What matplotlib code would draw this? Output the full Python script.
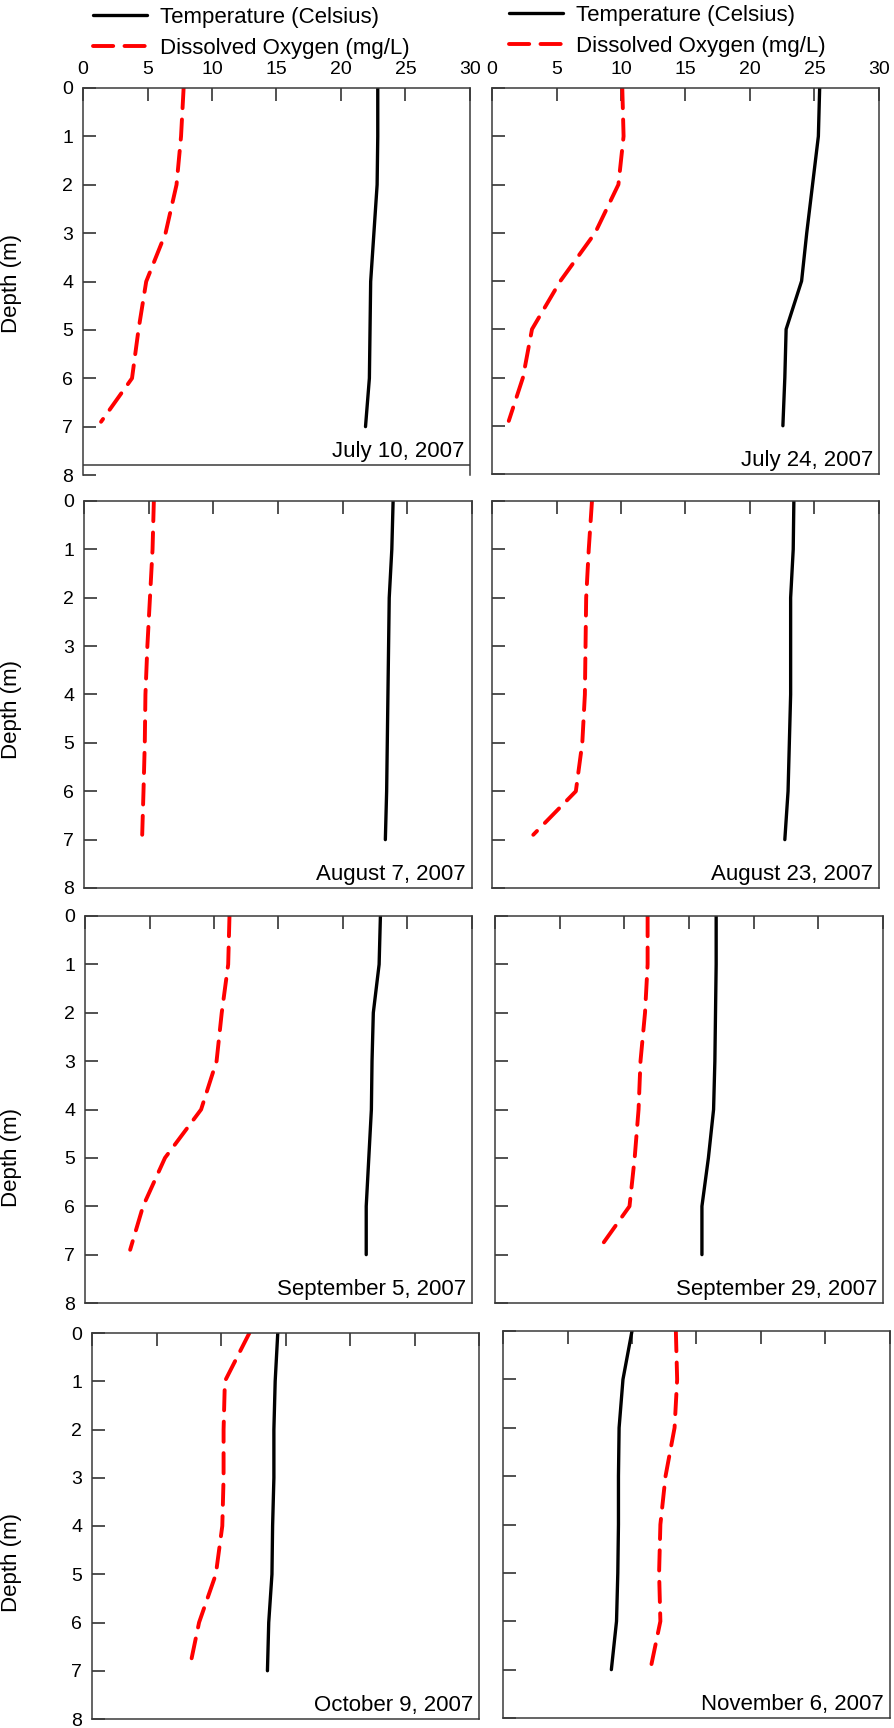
import matplotlib
matplotlib.use("Agg")
import matplotlib.pyplot as plt

plt.rcParams['font.family'] = ['Liberation Sans', 'DejaVu Sans']

W, H = 895, 1728
DPI = 100

# Sampling depths (m)
temp_depth = [0, 1, 2, 3, 4, 5, 6, 7]
do_depth = [0, 1, 2, 3, 4, 5, 6, 6.9]

dates = ["July 10, 2007", "July 24, 2007", "August 7, 2007", "August 23, 2007",
         "September 5, 2007", "September 29, 2007", "October 9, 2007", "November 6, 2007"]

# Temperature profiles (Celsius)
temp_jul10 = [22.85, 22.85, 22.8, 22.55, 22.3, 22.25, 22.2, 21.9]
temp_jul24 = [25.4, 25.3, 24.85, 24.4, 24.0, 22.8, 22.7, 22.55]
temp_aug07 = [23.9, 23.8, 23.6, 23.55, 23.5, 23.45, 23.4, 23.3]
temp_aug23 = [23.4, 23.35, 23.15, 23.15, 23.15, 23.05, 22.95, 22.7]
temp_sep05 = [22.9, 22.8, 22.35, 22.25, 22.2, 22.0, 21.8, 21.8]
temp_sep29 = [17.1, 17.1, 17.05, 17.0, 16.9, 16.5, 16.0, 16.0]
temp_oct09 = [14.4, 14.2, 14.1, 14.1, 14.0, 13.95, 13.7, 13.6]
temp_nov06 = [10.0, 9.3, 9.0, 8.95, 8.95, 8.9, 8.8, 8.4]

# Dissolved oxygen profiles (mg/L)
do_jul10 = [7.8, 7.6, 7.25, 6.4, 4.9, 4.3, 3.8, 1.4]
do_jul24 = [10.1, 10.2, 9.8, 8.0, 5.3, 3.1, 2.4, 1.3]
do_aug07 = [5.4, 5.3, 5.1, 4.9, 4.75, 4.7, 4.6, 4.5]
do_aug23 = [7.75, 7.5, 7.3, 7.25, 7.2, 7.0, 6.5, 3.2]
do_sep05 = [11.2, 11.1, 10.6, 10.2, 9.0, 6.2, 4.5, 3.5]
do_sep29 = [11.8, 11.8, 11.6, 11.25, 11.1, 10.8, 10.4, 8.0]
do_oct09 = [12.2, 10.3, 10.2, 10.2, 10.1, 9.6, 8.3, 7.6]
do_nov06 = [13.4, 13.5, 13.3, 12.6, 12.2, 12.1, 12.2, 11.5]

temps = [temp_jul10, temp_jul24, temp_aug07, temp_aug23,
         temp_sep05, temp_sep29, temp_oct09, temp_nov06]
oxygen = [do_jul10, do_jul24, do_aug07, do_aug23,
          do_sep05, do_sep29, do_oct09, do_nov06]

x_ticks = [0, 5, 10, 15, 20, 25, 30]
y_ticks = [0, 1, 2, 3, 4, 5, 6, 7, 8]

# Panel boxes in pixels: left, right, top, bottom
boxes = [(83, 470, 88, 475), (492, 879, 88, 474),
         (84, 472, 501, 888), (492, 879, 501, 888),
         (85, 472, 916, 1303), (495, 883, 916, 1303),
         (92, 479, 1333, 1719), (503, 890, 1331, 1718)]
ylabel_depth = [4.05, None, 4.3, None, 5.0, None, 4.75, None]

spine_c = '#3a3a3a'
fig = plt.figure(figsize=(W / DPI, H / DPI), dpi=DPI)

handles = []
for i, (l, r, t, b) in enumerate(boxes):
    ax = fig.add_axes([l / W, 1 - b / H, (r - l) / W, (b - t) / H])
    ln_t, = ax.plot(temps[i], temp_depth, color='black', lw=2.4,
                    solid_capstyle='round', label='Temperature (Celsius)')
    ln_o, = ax.plot(oxygen[i], do_depth, color='#ff0000', lw=2.8,
                    dashes=(5.2, 2.9), dash_capstyle='round',
                    label='Dissolved Oxygen (mg/L)')
    handles.append((ln_t, ln_o))
    ax.set_xlim(0, 30)
    ax.set_ylim(8, 0)
    for s in ax.spines.values():
        s.set_color(spine_c)
        s.set_linewidth(1.1)
    ax.xaxis.set_ticks_position('top')
    ax.set_xticks(x_ticks)
    ax.set_yticks(y_ticks)
    ax.tick_params(axis='both', direction='in', length=9, width=1.1,
                   color='#222222', labelsize=14, pad=7)
    ax.tick_params(axis='y', right=False)
    if i > 1:
        ax.tick_params(axis='x', labeltop=False)
    if i % 2 == 1:
        ax.tick_params(axis='y', labelleft=False)
    else:
        ax.set_ylabel('Depth (m)', fontsize=16)
        ax.yaxis.set_label_coords(-(l - 22) / (r - l), 1 - ylabel_depth[i] / 8)
    if i == 0:
        ax.spines['bottom'].set_visible(False)
        ax.axhline(7.8, color=spine_c, lw=1.1)
        anchor = (30, 7.8)
        anchor_coords = 'data'
    else:
        anchor = (1, 0)
        anchor_coords = 'axes fraction'
    ax.annotate(dates[i], xy=anchor, xycoords=anchor_coords,
                xytext=(-6, 8), textcoords='offset pixels',
                ha='right', va='baseline', fontsize=16)

for (ht, ho), x0, y0 in [(handles[0], 93, 7), (handles[1], 509, 5)]:
    fig.legend([ht, ho], [ht.get_label(), ho.get_label()],
               loc='upper left', bbox_to_anchor=(x0 / W, 1 - y0 / H),
               frameon=False, fontsize=16, borderpad=0, borderaxespad=0,
               handlelength=2.45, handletextpad=0.55, labelspacing=0.45)

fig.savefig('out.png', dpi=DPI)
